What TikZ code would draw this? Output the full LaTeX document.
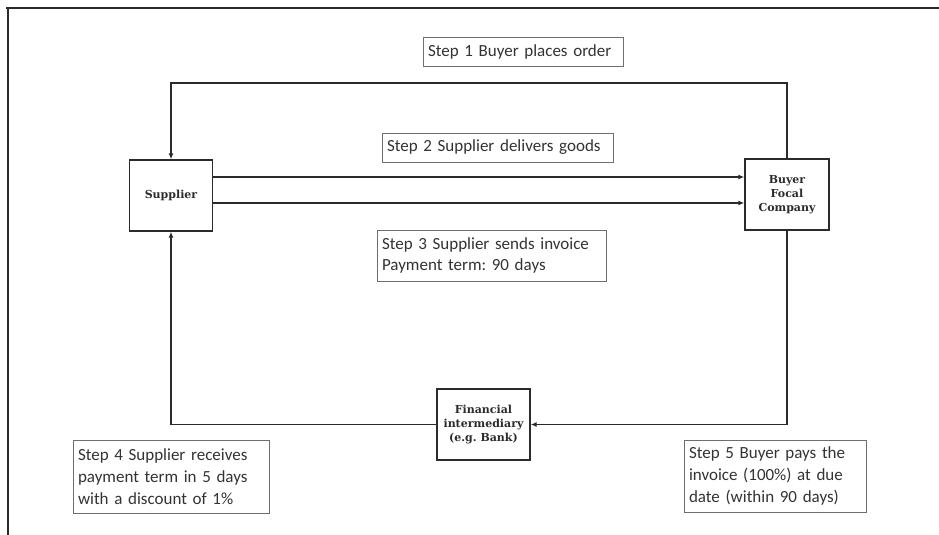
\documentclass[tikz,border=0pt]{standalone}
\usepackage{fontspec}
\newfontfamily\stepfont{Carlito}
\newfontfamily\partyfont{DejaVu Serif}
\usetikzlibrary{arrows.meta,calc}
\frenchspacing

\definecolor{linegray}{HTML}{2B2B2B}
\definecolor{boxgray}{HTML}{6E6E6E}
\definecolor{textgray}{HTML}{333333}

\tikzstyle{party}=[draw=linegray, line width=1.4pt, fill=white, minimum height=71pt, inner sep=2pt, align=center, text=linegray, font=\partyfont\bfseries\fontsize{11}{14}\selectfont]
\tikzstyle{stepbox}=[draw=boxgray, line width=0.9pt, fill=white, inner xsep=5pt, inner ysep=4pt, align=left, text=textgray, font=\stepfont\frenchspacing\fontsize{17}{21.7}\selectfont]
\tikzstyle{flow}=[draw=linegray, line width=1.4pt, -{Latex[length=6pt,width=5pt]}]

\begin{document}
\begin{tikzpicture}[x=1pt, y=-1pt]
			\useasboundingbox (0,0) rectangle (939,535);
			%The outer frame
			\draw[linegray, line width=2.5pt] (6,8) -- (939,8);
			\draw[linegray, line width=1.6pt] (8,8) -- (8,535);
			%The parties
			\foreach \pos/\name/\w/\txt in {{(171,195.5)/supplier/83/Supplier},
									{(787,194.5)/buyer/84/{Buyer\\Focal\\Company}},
									{(483.5,424.5)/bank/93/{Financial\\intermediary\\(e.g. Bank)}}}
			\node[party, minimum width=\w pt] (\name) at \pos {\txt};
			%The steps
			\foreach \pos/\name/\tw/\h/\txt in {{(523,51.5)/step1/190/29/{Step 1 Buyer places order}},
									{(497.5,147.5)/step2/221/29/{Step 2 Supplier delivers goods}},
									{(491.5,255.5)/step3/219/51/{Step 3 Supplier sends invoice\\Payment term: 90 days}},
									{(171,476.5)/step4/186/73/{Step 4 Supplier receives\\payment term in 5 days\\with a discount of 1\%}},
									{(775,476)/step5/172/72/{Step 5 Buyer pays the\\invoice (100\%) at due\\date (within 90 days)}}}
			\node[stepbox, text width=\tw pt, minimum height=\h pt] (\name) at \pos {\txt};
			%Order loop over the top
			\coordinate (looptop) at (480,83);
			\draw[flow] (buyer.north) |- (looptop) -| (supplier.north);
			%Goods and invoice
			\draw[flow] ($(supplier.east)+(0,-18.5)$) -- ($(buyer.west)+(0,-17.5)$);
			\draw[flow] ($(supplier.east)+(0,7.5)$) -- ($(buyer.west)+(0,8.5)$);
			%Payments through the bank
			\draw[flow] (buyer.south) |- (bank.east);
			\draw[flow] (bank.west) -| (supplier.south);
		\end{tikzpicture}
\end{document}
